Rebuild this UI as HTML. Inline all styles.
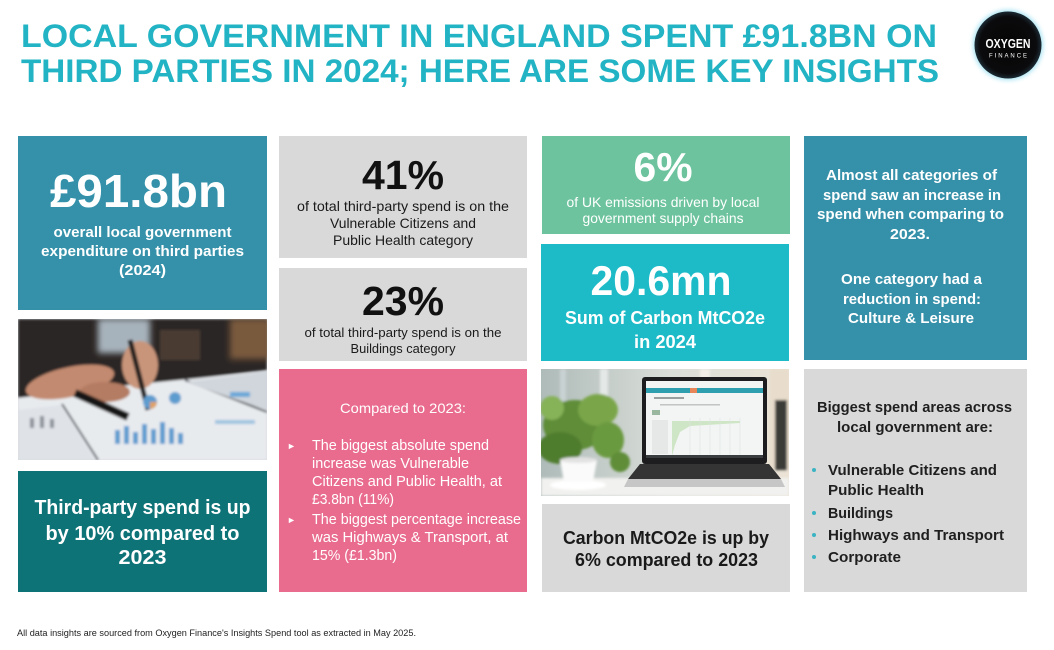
<!DOCTYPE html>
<html>
<head>
<meta charset="utf-8">
<style>
  html,body{margin:0;padding:0;background:#fff;}
  body{width:1054px;height:650px;overflow:hidden;}
  svg{display:block;}
  text{font-family:"Liberation Sans",Arial,sans-serif;}
</style>
</head>
<body>
<svg width="1054" height="650" viewBox="0 0 1054 650" xmlns="http://www.w3.org/2000/svg">
  <defs>
    <clipPath id="c1"><rect x="18" y="319" width="249" height="141"/></clipPath>
    <clipPath id="c2"><rect x="541" y="369" width="248" height="127"/></clipPath>
    <filter id="bl" x="-10%" y="-10%" width="120%" height="120%"><feGaussianBlur stdDeviation="1.4"/></filter>
    <filter id="bl3" x="-20%" y="-20%" width="140%" height="140%"><feGaussianBlur stdDeviation="3"/></filter>
    <filter id="glow" x="-40%" y="-40%" width="180%" height="180%"><feGaussianBlur stdDeviation="2.5"/></filter>
    <linearGradient id="bg2" x1="0" y1="0" x2="1" y2="0">
      <stop offset="0" stop-color="#aebbb9"/>
      <stop offset="0.5" stop-color="#d9ddd8"/>
      <stop offset="1" stop-color="#ece3d6"/>
    </linearGradient>
    <radialGradient id="logoG" cx="0.5" cy="0.5" r="0.5">
      <stop offset="0" stop-color="#050505"/>
      <stop offset="0.85" stop-color="#0b0b0d"/>
      <stop offset="1" stop-color="#1b2a33"/>
    </radialGradient>
  </defs>

  <!-- Title -->
  <text x="21" y="47" font-size="32" font-weight="bold" fill="#22b4c4" textLength="916" lengthAdjust="spacingAndGlyphs">LOCAL GOVERNMENT IN ENGLAND SPENT £91.8BN ON</text>
  <text x="21" y="82" font-size="32" font-weight="bold" fill="#22b4c4" textLength="918" lengthAdjust="spacingAndGlyphs">THIRD PARTIES IN 2024; HERE ARE SOME KEY INSIGHTS</text>

  <!-- Logo -->
  <circle cx="1008" cy="45" r="35" fill="#8fdcef" filter="url(#glow)" opacity="0.8"/>
  <circle cx="1008" cy="45" r="33.5" fill="url(#logoG)"/>
  <text x="1008" y="48" font-size="12.5" font-weight="bold" fill="#ffffff" text-anchor="middle" textLength="45" lengthAdjust="spacingAndGlyphs">OXYGEN</text>
  <text x="1008" y="57.5" font-size="6" fill="#ffffff" text-anchor="middle" textLength="38" lengthAdjust="spacing">FINANCE</text>

  <!-- Column 1 -->
  <rect x="18" y="136" width="249" height="174" fill="#3491a9"/>
  <text x="50" y="207" font-size="46" font-weight="bold" fill="#ffffff" textLength="177" lengthAdjust="spacingAndGlyphs">£91.8bn</text>
  <text x="142.5" y="237" font-size="15" font-weight="bold" fill="#ffffff" text-anchor="middle" textLength="178" lengthAdjust="spacingAndGlyphs">overall local government</text>
  <text x="142.5" y="256" font-size="15" font-weight="bold" fill="#ffffff" text-anchor="middle" textLength="203" lengthAdjust="spacingAndGlyphs">expenditure on third parties</text>
  <text x="142.5" y="275" font-size="15" font-weight="bold" fill="#ffffff" text-anchor="middle" textLength="47" lengthAdjust="spacingAndGlyphs">(2024)</text>

  <!-- Photo 1 -->
  <g clip-path="url(#c1)">
    <rect x="18" y="319" width="249" height="141" fill="#d5d9de"/>
    <g filter="url(#bl)">
      <polygon points="18,319 267,319 267,370 200,378 120,386 18,398" fill="#2c2725"/>
      <rect x="98" y="319" width="52" height="34" fill="#a7b3bc" filter="url(#bl3)"/>
      <rect x="230" y="319" width="40" height="40" fill="#7a5a3c" filter="url(#bl3)"/>
      <rect x="160" y="330" width="40" height="30" fill="#4a3b30"/>
      <polygon points="18,398 120,386 200,378 267,372 267,460 18,460" fill="#e8ebee"/>
      <polygon points="18,410 60,405 95,460 18,460" fill="#dfe3e8"/>
      <line x1="62" y1="404" x2="98" y2="460" stroke="#4e535a" stroke-width="2"/>
      <line x1="185" y1="380" x2="267" y2="412" stroke="#3b3f45" stroke-width="2"/>
      <polygon points="185,382 267,372 267,410" fill="#d0d6dc"/>
      <ellipse cx="70" cy="382" rx="45" ry="15" fill="#c28a70" transform="rotate(-12 70 382)"/>
      <ellipse cx="140" cy="365" rx="18" ry="24" fill="#c9957a"/>
      <ellipse cx="105" cy="392" rx="25" ry="10" fill="#b47b62"/>
      <line x1="130" y1="340" x2="148" y2="410" stroke="#1b1b1d" stroke-width="5"/>
      <line x1="75" y1="393" x2="128" y2="417" stroke="#151517" stroke-width="8"/>
      <circle cx="150" cy="402" r="7" fill="#5d9ccf"/>
      <path d="M150,402 L157,402 A7,7 0 0,1 150,409 Z" fill="#e0a060"/>
      <circle cx="175" cy="398" r="6" fill="#5d9ccf"/>
      <rect x="115" y="430" width="5" height="14" fill="#5b9bd0"/>
      <rect x="124" y="426" width="5" height="18" fill="#5b9bd0"/>
      <rect x="133" y="432" width="5" height="12" fill="#5b9bd0"/>
      <rect x="142" y="424" width="5" height="20" fill="#5b9bd0"/>
      <rect x="151" y="429" width="5" height="15" fill="#5b9bd0"/>
      <rect x="160" y="422" width="5" height="22" fill="#5b9bd0"/>
      <rect x="169" y="428" width="5" height="16" fill="#5b9bd0"/>
      <rect x="178" y="433" width="5" height="11" fill="#5b9bd0"/>
      <rect x="30" y="418" width="4" height="10" fill="#8a8f96"/>
      <rect x="40" y="416" width="4" height="12" fill="#8a8f96"/>
      <rect x="50" y="419" width="4" height="9" fill="#8a8f96"/>
      <rect x="230" y="392" width="20" height="5" fill="#6aa8d8"/>
      <rect x="215" y="420" width="40" height="4" fill="#9fc3e0"/>
    </g>
  </g>

  <rect x="18" y="471" width="249" height="121" fill="#0e7377"/>
  <text x="142.5" y="514" font-size="20" font-weight="bold" fill="#ffffff" text-anchor="middle" textLength="216" lengthAdjust="spacingAndGlyphs">Third-party spend is up</text>
  <text x="142.5" y="540" font-size="20" font-weight="bold" fill="#ffffff" text-anchor="middle" textLength="194" lengthAdjust="spacingAndGlyphs">by 10% compared to</text>
  <text x="142.5" y="564" font-size="20" font-weight="bold" fill="#ffffff" text-anchor="middle" textLength="48" lengthAdjust="spacingAndGlyphs">2023</text>

  <!-- Column 2 -->
  <rect x="279" y="136" width="248" height="122" fill="#d9d9d9"/>
  <text x="403" y="189" font-size="41" font-weight="bold" fill="#111111" text-anchor="middle" textLength="82" lengthAdjust="spacingAndGlyphs">41%</text>
  <text x="403" y="211" font-size="14" fill="#1a1a1a" text-anchor="middle" textLength="212" lengthAdjust="spacingAndGlyphs">of total third-party spend is on the</text>
  <text x="403" y="228" font-size="14" fill="#1a1a1a" text-anchor="middle" textLength="146" lengthAdjust="spacingAndGlyphs">Vulnerable Citizens and</text>
  <text x="403" y="245" font-size="14" fill="#1a1a1a" text-anchor="middle" textLength="140" lengthAdjust="spacingAndGlyphs">Public Health category</text>

  <rect x="279" y="268" width="248" height="93" fill="#d9d9d9"/>
  <text x="403" y="315" font-size="41" font-weight="bold" fill="#111111" text-anchor="middle" textLength="82" lengthAdjust="spacingAndGlyphs">23%</text>
  <text x="403" y="337" font-size="13" fill="#1a1a1a" text-anchor="middle" textLength="197" lengthAdjust="spacingAndGlyphs">of total third-party spend is on the</text>
  <text x="403" y="353" font-size="13" fill="#1a1a1a" text-anchor="middle" textLength="105" lengthAdjust="spacingAndGlyphs">Buildings category</text>

  <rect x="279" y="369" width="248" height="223" fill="#e96c8e"/>
  <text x="403" y="413" font-size="14" fill="#ffffff" text-anchor="middle" textLength="126" lengthAdjust="spacingAndGlyphs">Compared to 2023:</text>
  <text x="287" y="449" font-size="9" fill="#ffffff">►</text>
  <text x="312" y="450" font-size="14.5" fill="#ffffff" textLength="177" lengthAdjust="spacingAndGlyphs">The biggest absolute spend</text>
  <text x="312" y="468" font-size="14.5" fill="#ffffff" textLength="157" lengthAdjust="spacingAndGlyphs">increase was Vulnerable</text>
  <text x="312" y="486" font-size="14.5" fill="#ffffff" textLength="190" lengthAdjust="spacingAndGlyphs">Citizens and Public Health, at</text>
  <text x="312" y="504" font-size="14.5" fill="#ffffff" textLength="82" lengthAdjust="spacingAndGlyphs">£3.8bn (11%)</text>
  <text x="287" y="523" font-size="9" fill="#ffffff">►</text>
  <text x="312" y="524" font-size="14.5" fill="#ffffff" textLength="209" lengthAdjust="spacingAndGlyphs">The biggest percentage increase</text>
  <text x="312" y="542" font-size="14.5" fill="#ffffff" textLength="196" lengthAdjust="spacingAndGlyphs">was Highways &amp; Transport, at</text>
  <text x="312" y="560" font-size="14.5" fill="#ffffff" textLength="85" lengthAdjust="spacingAndGlyphs">15% (£1.3bn)</text>

  <!-- Column 3 -->
  <rect x="542" y="136" width="248" height="98" fill="#6cc39d"/>
  <text x="663" y="181" font-size="41" font-weight="bold" fill="#ffffff" text-anchor="middle" textLength="59" lengthAdjust="spacingAndGlyphs">6%</text>
  <text x="663" y="207" font-size="14" fill="#ffffff" text-anchor="middle" textLength="193" lengthAdjust="spacingAndGlyphs">of UK emissions driven by local</text>
  <text x="663" y="223" font-size="14" fill="#ffffff" text-anchor="middle" textLength="161" lengthAdjust="spacingAndGlyphs">government supply chains</text>

  <rect x="541" y="244" width="248" height="117" fill="#1dbac7"/>
  <text x="661" y="295" font-size="42" font-weight="bold" fill="#ffffff" text-anchor="middle" textLength="141" lengthAdjust="spacingAndGlyphs">20.6mn</text>
  <text x="665" y="324" font-size="18" font-weight="bold" fill="#ffffff" text-anchor="middle" textLength="200" lengthAdjust="spacingAndGlyphs">Sum of Carbon MtCO2e</text>
  <text x="665" y="348" font-size="18" font-weight="bold" fill="#ffffff" text-anchor="middle" textLength="62" lengthAdjust="spacingAndGlyphs">in 2024</text>

  <!-- Photo 2 -->
  <g clip-path="url(#c2)">
    <rect x="541" y="369" width="248" height="127" fill="url(#bg2)"/>
    <g filter="url(#bl)">
      <rect x="560" y="369" width="6" height="70" fill="#c9d2d2"/>
      <rect x="600" y="369" width="8" height="60" fill="#e4e8e6"/>
      <rect x="700" y="369" width="10" height="12" fill="#f3efe8"/>
      <rect x="770" y="369" width="19" height="100" fill="#e8ddcc"/>
      <rect x="775" y="400" width="12" height="70" fill="#3b3a38"/>
      <rect x="541" y="478" width="248" height="18" fill="#f1f1ef"/>
      <ellipse cx="575" cy="425" rx="32" ry="25" fill="#5e8d39"/>
      <ellipse cx="598" cy="410" rx="20" ry="16" fill="#7aa64a"/>
      <ellipse cx="560" cy="448" rx="22" ry="16" fill="#4f7d2e"/>
      <ellipse cx="608" cy="440" rx="16" ry="18" fill="#6b9a40"/>
      <ellipse cx="552" cy="408" rx="12" ry="12" fill="#86b258"/>
      <ellipse cx="620" cy="462" rx="10" ry="10" fill="#5e8d39"/>
      <ellipse cx="578" cy="485" rx="28" ry="5" fill="#ffffff"/>
      <path d="M560,460 L597,460 L593,482 L564,482 Z" fill="#fafafa"/>
      <ellipse cx="578.5" cy="460" rx="18.5" ry="3" fill="#e2e2e2"/>
    </g>
    <rect x="642" y="377" width="125" height="87" rx="3" fill="#1d1d1f"/>
    <rect x="646" y="381" width="117" height="76" fill="#f3f5f4"/>
    <rect x="646" y="388" width="117" height="5" fill="#2d9fae"/>
    <rect x="690" y="388" width="7" height="5" fill="#e8865a"/>
    <rect x="654" y="397" width="30" height="2" fill="#9aa0a0"/>
    <rect x="660" y="404" width="60" height="1.5" fill="#c0c4c4"/>
    <rect x="652" y="410" width="8" height="5" fill="#9ab8a0"/>
    <polygon points="672,421 740,421 740,423 690,426 680,432 675,445 672,456" fill="#cfe6c6"/>
    <g stroke="#dde2df" stroke-width="0.6">
      <line x1="690" y1="418" x2="690" y2="455"/><line x1="700" y1="418" x2="700" y2="455"/>
      <line x1="710" y1="418" x2="710" y2="455"/><line x1="720" y1="418" x2="720" y2="455"/>
      <line x1="730" y1="418" x2="730" y2="455"/><line x1="740" y1="418" x2="740" y2="455"/>
    </g>
    <rect x="652" y="420" width="16" height="34" fill="#e6e8e7"/>
    <rect x="646" y="455" width="117" height="3" fill="#3a3d3f"/>
    <polygon points="640,464 769,464 781,479 628,479" fill="#343435"/>
    <polygon points="628,479 781,479 785,487 624,487" fill="#c6c6c6"/>
  </g>

  <rect x="542" y="504" width="248" height="88" fill="#d9d9d9"/>
  <text x="666" y="544" font-size="18" font-weight="bold" fill="#1a1a1a" text-anchor="middle" textLength="206" lengthAdjust="spacingAndGlyphs">Carbon MtCO2e is up by</text>
  <text x="666.5" y="566" font-size="18" font-weight="bold" fill="#1a1a1a" text-anchor="middle" textLength="183" lengthAdjust="spacingAndGlyphs">6% compared to 2023</text>

  <!-- Column 4 -->
  <rect x="804" y="136" width="223" height="224" fill="#3590a9"/>
  <g font-size="15" font-weight="bold" fill="#ffffff" text-anchor="middle">
    <text x="911.5" y="180" textLength="171" lengthAdjust="spacingAndGlyphs">Almost all categories of</text>
    <text x="912" y="200" textLength="178" lengthAdjust="spacingAndGlyphs">spend saw an increase in</text>
    <text x="910.5" y="219" textLength="187" lengthAdjust="spacingAndGlyphs">spend when comparing to</text>
    <text x="910" y="239" textLength="40" lengthAdjust="spacingAndGlyphs">2023.</text>
    <text x="911.5" y="284" textLength="141" lengthAdjust="spacingAndGlyphs">One category had a</text>
    <text x="912" y="304" textLength="138" lengthAdjust="spacingAndGlyphs">reduction in spend:</text>
    <text x="911" y="323" textLength="126" lengthAdjust="spacingAndGlyphs">Culture &amp; Leisure</text>
  </g>

  <rect x="804" y="369" width="223" height="223" fill="#d9d9d9"/>
  <text x="914.5" y="412" font-size="15" font-weight="bold" fill="#1f1f1f" text-anchor="middle" textLength="195" lengthAdjust="spacingAndGlyphs">Biggest spend areas across</text>
  <text x="915" y="432" font-size="15" font-weight="bold" fill="#1f1f1f" text-anchor="middle" textLength="156" lengthAdjust="spacingAndGlyphs">local government are:</text>
  <g fill="#3ab3c3">
    <circle cx="814" cy="470" r="2"/>
    <circle cx="814" cy="513" r="2"/>
    <circle cx="814" cy="535" r="2"/>
    <circle cx="814" cy="557" r="2"/>
  </g>
  <g font-size="15" font-weight="bold" fill="#1f1f1f">
    <text x="828" y="475" textLength="169" lengthAdjust="spacingAndGlyphs">Vulnerable Citizens and</text>
    <text x="828" y="495" textLength="96" lengthAdjust="spacingAndGlyphs">Public Health</text>
    <text x="828" y="518" textLength="65" lengthAdjust="spacingAndGlyphs">Buildings</text>
    <text x="828" y="540" textLength="176" lengthAdjust="spacingAndGlyphs">Highways and Transport</text>
    <text x="828" y="562" textLength="73" lengthAdjust="spacingAndGlyphs">Corporate</text>
  </g>

  <!-- Footer -->
  <text x="17" y="636" font-size="9" fill="#222222" textLength="399" lengthAdjust="spacingAndGlyphs">All data insights are sourced from Oxygen Finance's Insights Spend tool as extracted in May 2025.</text>
</svg>
</body>
</html>
